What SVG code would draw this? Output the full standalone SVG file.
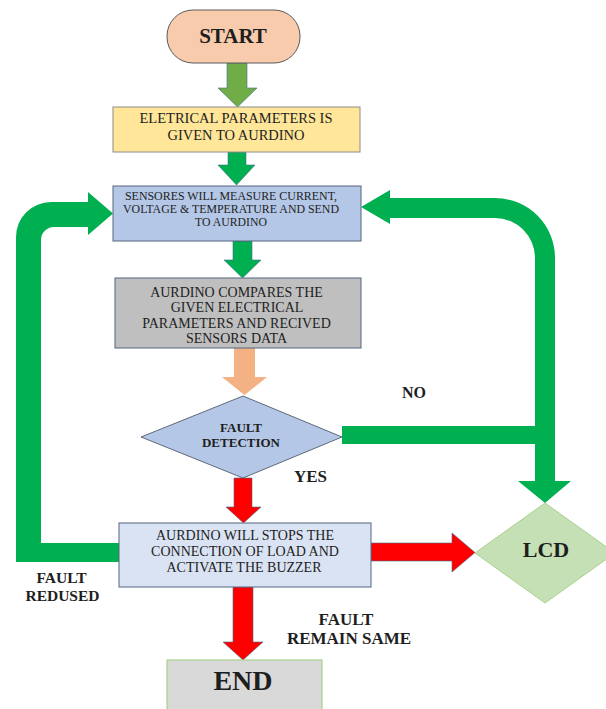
<svg xmlns="http://www.w3.org/2000/svg" width="606" height="709" viewBox="0 0 606 709">
<style>
text{font-family:"Liberation Serif","Times New Roman",serif;fill:#1e1e1e;text-anchor:middle}
.b{font-weight:bold}
.box{font-size:14px}
.g{fill:#00b050}
.lg{fill:#70ad47}
.o{fill:#f4b183}
.r{fill:#ff0000}
.edge{stroke:#3f6f8f;stroke-width:0.6}
</style>
<rect width="606" height="709" fill="#ffffff"/>

<g id="connectors">
  <!-- START -> box2 -->
  <path class="lg edge" d="M227 63 H247 V88 H257 L237.5 107 L218 88 H227 Z"/>
  <!-- box2 -> sensors -->
  <path class="g edge" d="M228 152 H246 V165 H255 L236.5 185 L218 165 H228 Z"/>
  <!-- sensors -> compare -->
  <path class="g edge" d="M233 241 H252 V260 H261 L242.5 278 L224 260 H233 Z"/>
  <!-- compare -> decision -->
  <path class="o" d="M234 348 H255 V377 H267 L244.5 395 L222 377 H234 Z"/>
  <!-- decision -> stop (YES) -->
  <path class="r edge" d="M234 478 H252 V507 H261 L243.5 523 L226 507 H234 Z"/>
  <!-- stop -> END -->
  <path class="r edge" d="M233 587 H253 V642 H263 L243 660 L223 642 H233 Z"/>
  <!-- stop -> LCD -->
  <path class="r edge" d="M371 543 H452 V533 L475 552.5 L452 572 V561 H371 Z"/>
  <!-- fault reduced loop -->
  <path class="g" d="M119 543 H41 V240 A13 13 0 0 1 54 227 H88 V235 L113 213.5 L88 192 V202 H51 A35 35 0 0 0 16 237 V562 H119 Z"/>
  <!-- NO branch horizontal -->
  <rect class="g" x="342" y="426" width="195" height="18"/>
  <!-- right loop: to sensors and to LCD -->
  <path class="g" d="M361 207 L390 190 V198 H495 A60 60 0 0 1 555 258 V481 H571 L545 503 L518 481 H535 V258 A40 40 0 0 0 495 218 H390 V224 Z"/>
</g>

<g id="start">
  <rect x="167" y="10" width="133" height="53" rx="26" ry="26" fill="#f8cbad" stroke="#5a5a5a" stroke-width="1"/>
  <text class="b" x="233" y="43" font-size="21">START</text>
</g>

<g id="given">
  <rect x="113" y="107" width="247" height="45" fill="#ffe699" stroke="#8c8c8c" stroke-width="1"/>
  <text class="box" x="236" y="123" font-size="13" textLength="193" lengthAdjust="spacingAndGlyphs">ELETRICAL PARAMETERS IS</text>
  <text class="box" x="236" y="140" font-size="13" textLength="137" lengthAdjust="spacingAndGlyphs">GIVEN TO AURDINO</text>
</g>

<g id="sensors">
  <rect x="113" y="186" width="248" height="55" fill="#b4c7e7" stroke="#56657f" stroke-width="1"/>
  <text x="231" y="200" font-size="11.5" textLength="212" lengthAdjust="spacingAndGlyphs">SENSORES WILL MEASURE CURRENT,</text>
  <text x="231" y="213" font-size="11.5" textLength="216" lengthAdjust="spacingAndGlyphs">VOLTAGE &amp; TEMPERATURE AND SEND</text>
  <text x="231" y="226" font-size="11.5" textLength="72" lengthAdjust="spacingAndGlyphs">TO AURDINO</text>
</g>

<g id="compare">
  <rect x="115" y="278" width="246" height="70" fill="#bfbfbf" stroke="#56657f" stroke-width="1"/>
  <text class="box" x="236.5" y="297" font-size="14.5">AURDINO COMPARES THE</text>
  <text class="box" x="237" y="312" font-size="14.5">GIVEN ELECTRICAL</text>
  <text class="box" x="236.5" y="328" font-size="14.5">PARAMETERS AND RECIVED</text>
  <text class="box" x="236.5" y="343" font-size="14.5">SENSORS DATA</text>
</g>

<g id="decision">
  <polygon points="243,396 342,437 243,478 141,437" fill="#b4c7e7" stroke="#404a5a" stroke-width="0.8"/>
  <text class="b" x="241" y="432" font-size="13" fill="#1f2a44">FAULT</text>
  <text class="b" x="241" y="447" font-size="13" fill="#1f2a44">DETECTION</text>
</g>

<g id="stop">
  <rect x="119" y="523" width="252" height="64" fill="#dae3f3" stroke="#56657f" stroke-width="1"/>
  <text class="box" x="245" y="540" font-size="14.4">AURDINO WILL STOPS THE</text>
  <text class="box" x="245" y="556" font-size="14.4">CONNECTION OF LOAD AND</text>
  <text class="box" x="244" y="572" font-size="14.4">ACTIVATE THE BUZZER</text>
</g>

<g id="lcd">
  <polygon points="545,503 615,553 545,603 475,553" fill="#c5e0b4" stroke="#a9d18e" stroke-width="1"/>
  <text class="b" x="546" y="557" font-size="22">LCD</text>
</g>

<g id="end">
  <rect x="167" y="660" width="155" height="60" fill="#d9d9d9" stroke="#a9d18e" stroke-width="1.2"/>
  <text class="b" x="243" y="690" font-size="28">END</text>
</g>

<g id="labels">
  <text class="b" x="414" y="398" font-size="16">NO</text>
  <text class="b" x="310.5" y="482" font-size="17">YES</text>
  <text class="b" x="61.5" y="583" font-size="15.5">FAULT</text>
  <text class="b" x="62.5" y="601" font-size="15.5">REDUSED</text>
  <text class="b" x="346" y="625" font-size="17">FAULT</text>
  <text class="b" x="349" y="644" font-size="17">REMAIN SAME</text>
</g>
</svg>
